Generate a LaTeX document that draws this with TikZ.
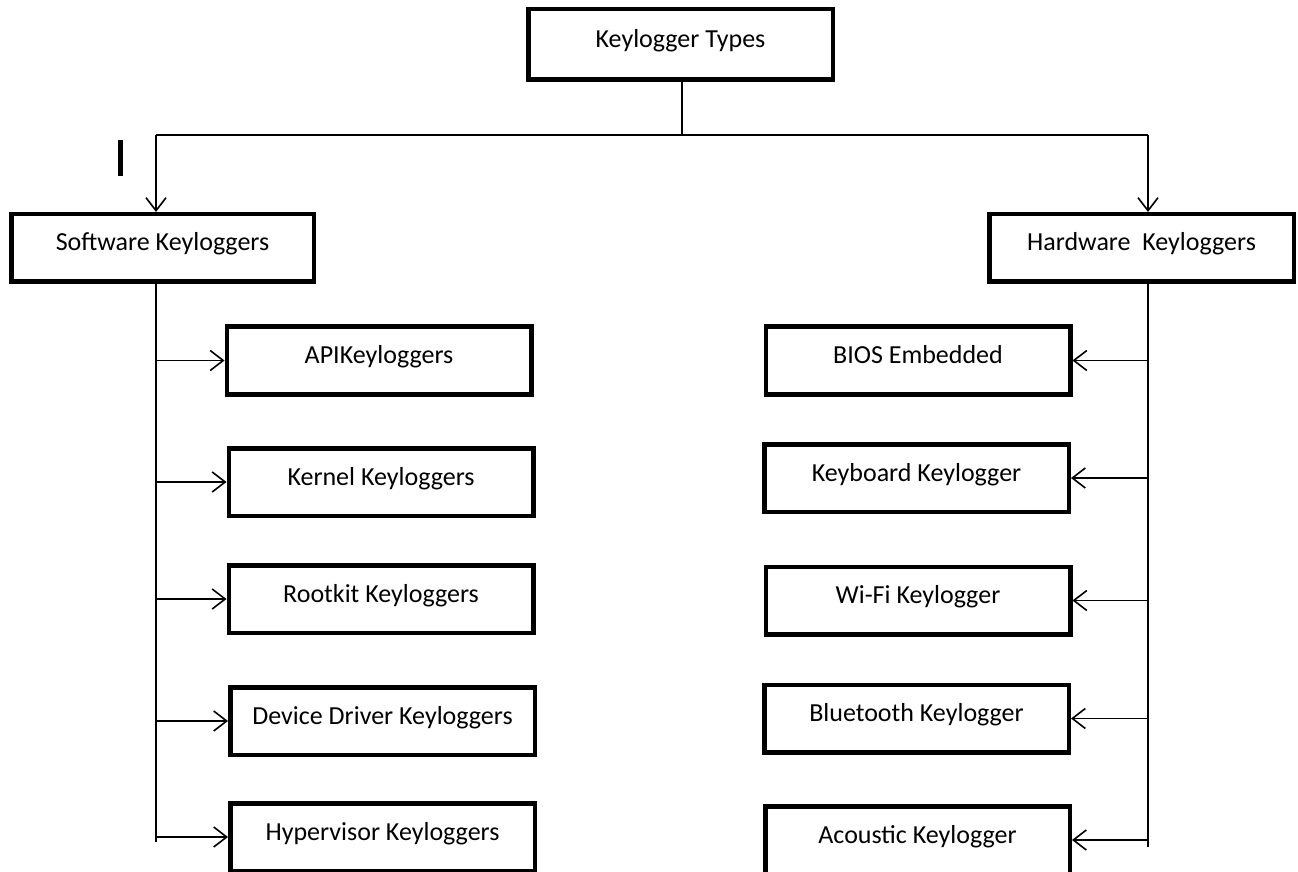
\documentclass[tikz,border=0pt]{standalone}
\usepackage{fontspec}
\setmainfont{Carlito}
\usetikzlibrary{arrows.meta}
\begin{document}
\begin{tikzpicture}[x=0.5pt,y=-0.5pt,
  box/.style={draw, line width=2.25pt, inner sep=0pt,
    minimum width=152.25pt, minimum height=33.75pt,
    text height=9.5pt, text depth=6.5pt,
    font=\fontsize{13}{15}\selectfont},
  conn/.style={line width=0.8pt},
  arr/.style={line width=0.8pt, -{Straight Barb[length=6.5pt,width=10pt,line width=0.8pt]}}
]
\useasboundingbox (0,0) rectangle (1298,872);
% boxes
\node[box, minimum height=35.25pt] (top) at (680.5,44.5) {Keylogger Types};
\node[box, minimum width=151.25pt] (sw) at (162.5,248) {Software Keyloggers};
\node[box] (hw) at (1141.5,248) {Hardware\ \ Keyloggers};
\node[box] (api) at (379,360.5) {APIKeyloggers};
\node[box] (kern) at (381,482) {Kernel Keyloggers};
\node[box] (root) at (381,599) {Rootkit Keyloggers};
\node[box] (dev) at (382.5,721) {Device Driver Keyloggers};
\node[box] (hyp) at (382.5,837) {Hypervisor Keyloggers};
\node[box] (bios) at (918,360.5) {BIOS Embedded};
\node[box] (kbd) at (916.5,478) {Keyboard Keylogger};
\node[box] (wifi) at (918,600.5) {Wi-Fi Keylogger};
\node[box] (bt) at (916.5,718.5) {Bluetooth Keylogger};
\node[box] (aco) at (917.5,840) {Acoustic Keylogger};
% coordinates
\coordinate (hub) at (682,135);
\coordinate (hl) at (156,135);
\coordinate (hr) at (1148,135);
\coordinate (lb) at (156,842);
\coordinate (rb) at (1148,847);
% top connectors
\draw[conn] (top.south -| hub) -- (hub);
\draw[conn] (hl) -- (hr);
\draw[arr] (hl) -- (hl |- sw.north);
\draw[arr] (hr) -- (hr |- hw.north);
% spines
\draw[conn] (lb |- sw.south) -- (lb);
\draw[conn] (rb |- hw.south) -- (rb);
% left branches
\foreach \n in {api,kern,root,dev,hyp}
  \draw[arr] (lb |- \n.west) -- (\n.west);
% right branches
\foreach \n in {bios,kbd,wifi,bt,aco}
  \draw[arr] (rb |- \n.east) -- (\n.east);
% stray mark
\draw[line width=2.2pt] (120.5,140) -- (120.5,176);
\end{tikzpicture}
\end{document}
